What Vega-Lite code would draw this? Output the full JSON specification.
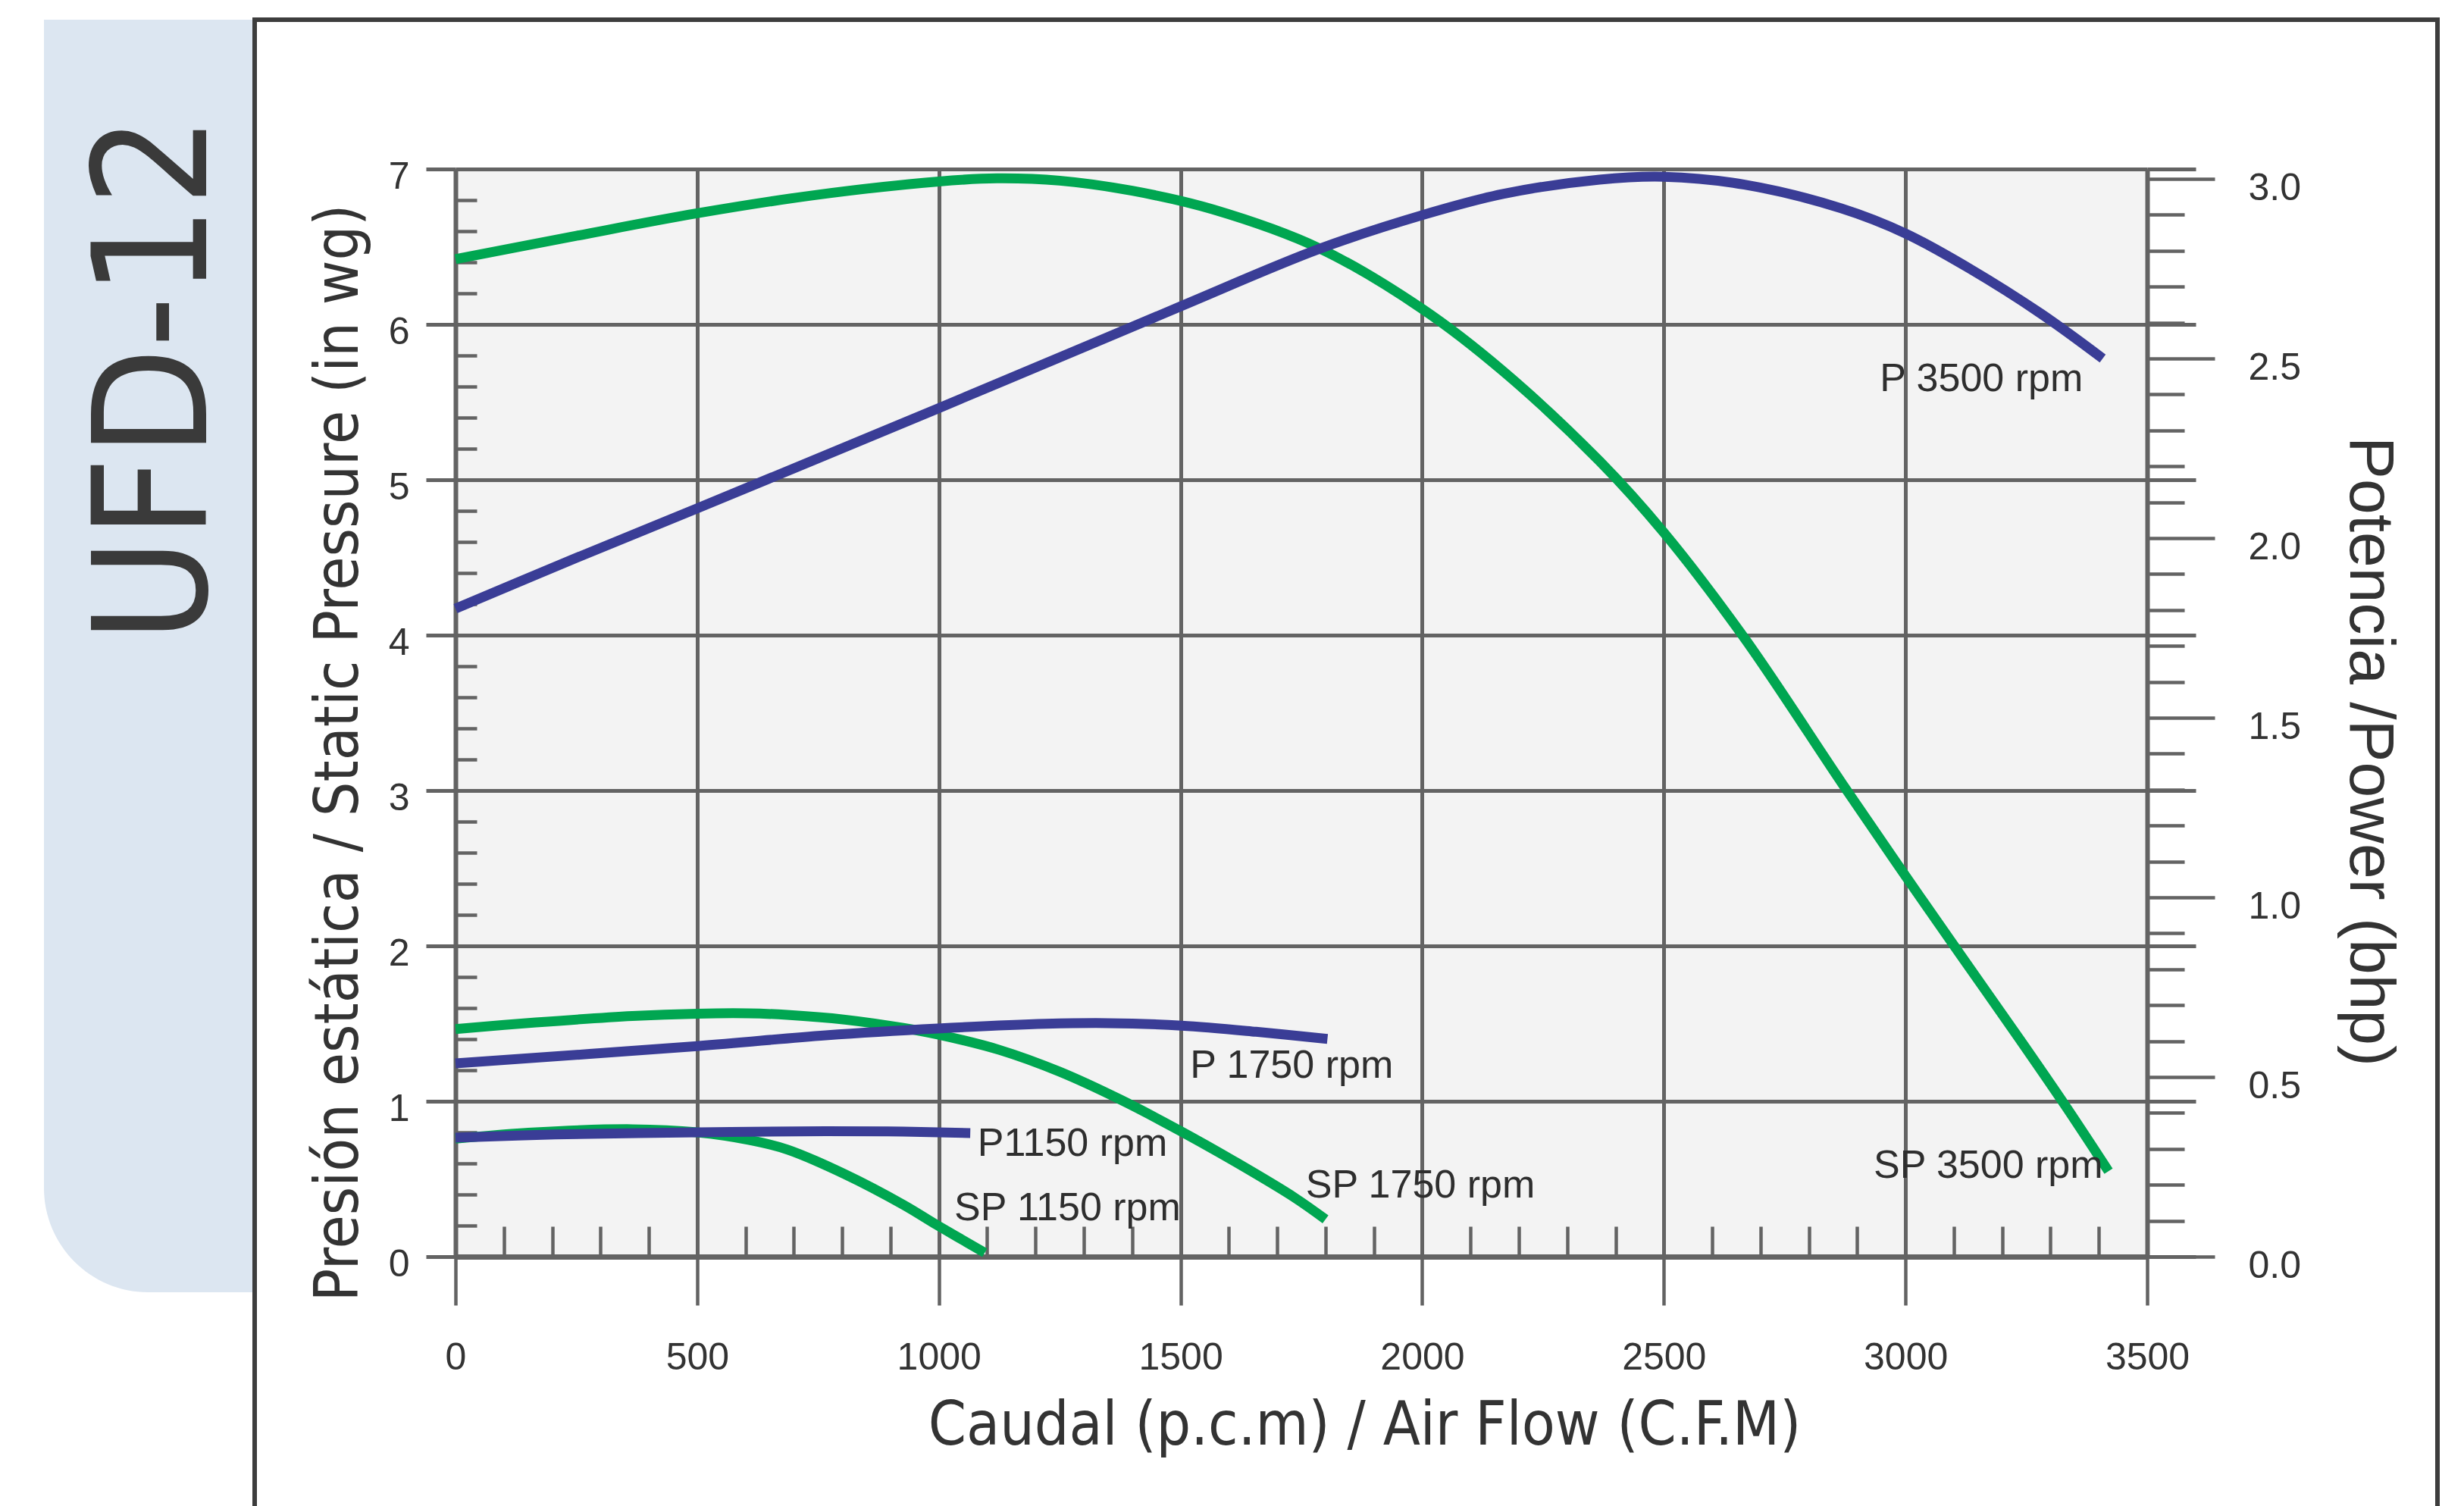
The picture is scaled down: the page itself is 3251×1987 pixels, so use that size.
{
  "$schema": "https://vega.github.io/schema/vega-lite/v6.json",
  "background": "white",
  "padding": {"left": 58, "top": 23, "right": 0, "bottom": 0},
  "spacing": 0,
  "config": {
    "view": {"stroke": "#3d3d3d", "strokeWidth": 6},
    "axis": {"labelFont": "Liberation Sans", "labelColor": "#333333", "titleColor": "#333333", "titleFontWeight": "normal", "tickColor": "#636363", "domainColor": "#636363", "gridColor": "#636363", "gridOpacity": 1, "labelFlush": false, "labelOverlap": false}
  },
  "datasets": {
    "sp": [
      {"curve": "SP 3500 rpm", "cfm": 0, "pressure": 6.42},
      {"curve": "SP 3500 rpm", "cfm": 250, "pressure": 6.57},
      {"curve": "SP 3500 rpm", "cfm": 500, "pressure": 6.715},
      {"curve": "SP 3500 rpm", "cfm": 750, "pressure": 6.835},
      {"curve": "SP 3500 rpm", "cfm": 1000, "pressure": 6.92},
      {"curve": "SP 3500 rpm", "cfm": 1120, "pressure": 6.94},
      {"curve": "SP 3500 rpm", "cfm": 1250, "pressure": 6.925},
      {"curve": "SP 3500 rpm", "cfm": 1400, "pressure": 6.86},
      {"curve": "SP 3500 rpm", "cfm": 1567, "pressure": 6.74},
      {"curve": "SP 3500 rpm", "cfm": 1787, "pressure": 6.49},
      {"curve": "SP 3500 rpm", "cfm": 2000, "pressure": 6.1},
      {"curve": "SP 3500 rpm", "cfm": 2167, "pressure": 5.7},
      {"curve": "SP 3500 rpm", "cfm": 2367, "pressure": 5.12},
      {"curve": "SP 3500 rpm", "cfm": 2500, "pressure": 4.66},
      {"curve": "SP 3500 rpm", "cfm": 2667, "pressure": 3.98},
      {"curve": "SP 3500 rpm", "cfm": 2870, "pressure": 3.04},
      {"curve": "SP 3500 rpm", "cfm": 3000, "pressure": 2.45},
      {"curve": "SP 3500 rpm", "cfm": 3112, "pressure": 1.95},
      {"curve": "SP 3500 rpm", "cfm": 3236, "pressure": 1.4},
      {"curve": "SP 3500 rpm", "cfm": 3331, "pressure": 0.97},
      {"curve": "SP 3500 rpm", "cfm": 3420, "pressure": 0.55},
      {"curve": "SP 1750 rpm", "cfm": 0, "pressure": 1.465},
      {"curve": "SP 1750 rpm", "cfm": 166, "pressure": 1.507},
      {"curve": "SP 1750 rpm", "cfm": 366, "pressure": 1.549},
      {"curve": "SP 1750 rpm", "cfm": 500, "pressure": 1.564},
      {"curve": "SP 1750 rpm", "cfm": 606, "pressure": 1.566},
      {"curve": "SP 1750 rpm", "cfm": 686, "pressure": 1.556},
      {"curve": "SP 1750 rpm", "cfm": 806, "pressure": 1.525},
      {"curve": "SP 1750 rpm", "cfm": 926, "pressure": 1.472},
      {"curve": "SP 1750 rpm", "cfm": 998, "pressure": 1.43},
      {"curve": "SP 1750 rpm", "cfm": 1126, "pressure": 1.33},
      {"curve": "SP 1750 rpm", "cfm": 1250, "pressure": 1.19},
      {"curve": "SP 1750 rpm", "cfm": 1376, "pressure": 1.01},
      {"curve": "SP 1750 rpm", "cfm": 1502, "pressure": 0.805},
      {"curve": "SP 1750 rpm", "cfm": 1616, "pressure": 0.605},
      {"curve": "SP 1750 rpm", "cfm": 1736, "pressure": 0.38},
      {"curve": "SP 1750 rpm", "cfm": 1800, "pressure": 0.24},
      {"curve": "SP 1150 rpm", "cfm": 0, "pressure": 0.76},
      {"curve": "SP 1150 rpm", "cfm": 166, "pressure": 0.8},
      {"curve": "SP 1150 rpm", "cfm": 366, "pressure": 0.82},
      {"curve": "SP 1150 rpm", "cfm": 500, "pressure": 0.8},
      {"curve": "SP 1150 rpm", "cfm": 606, "pressure": 0.752},
      {"curve": "SP 1150 rpm", "cfm": 686, "pressure": 0.69},
      {"curve": "SP 1150 rpm", "cfm": 806, "pressure": 0.53},
      {"curve": "SP 1150 rpm", "cfm": 926, "pressure": 0.335},
      {"curve": "SP 1150 rpm", "cfm": 998, "pressure": 0.2},
      {"curve": "SP 1150 rpm", "cfm": 1095, "pressure": 0.025}
    ],
    "p": [
      {"curve": "P 3500 rpm", "cfm": 0, "power": 1.804},
      {"curve": "P 3500 rpm", "cfm": 250, "power": 1.945},
      {"curve": "P 3500 rpm", "cfm": 500, "power": 2.083},
      {"curve": "P 3500 rpm", "cfm": 750, "power": 2.222},
      {"curve": "P 3500 rpm", "cfm": 1000, "power": 2.362},
      {"curve": "P 3500 rpm", "cfm": 1250, "power": 2.503},
      {"curve": "P 3500 rpm", "cfm": 1500, "power": 2.645},
      {"curve": "P 3500 rpm", "cfm": 1787, "power": 2.805},
      {"curve": "P 3500 rpm", "cfm": 2000, "power": 2.899},
      {"curve": "P 3500 rpm", "cfm": 2167, "power": 2.958},
      {"curve": "P 3500 rpm", "cfm": 2367, "power": 2.998},
      {"curve": "P 3500 rpm", "cfm": 2500, "power": 3.006},
      {"curve": "P 3500 rpm", "cfm": 2667, "power": 2.984},
      {"curve": "P 3500 rpm", "cfm": 2867, "power": 2.918},
      {"curve": "P 3500 rpm", "cfm": 3000, "power": 2.848},
      {"curve": "P 3500 rpm", "cfm": 3133, "power": 2.75},
      {"curve": "P 3500 rpm", "cfm": 3280, "power": 2.625},
      {"curve": "P 3500 rpm", "cfm": 3408, "power": 2.5},
      {"curve": "P 1750 rpm", "cfm": 0, "power": 0.538},
      {"curve": "P 1750 rpm", "cfm": 500, "power": 0.586},
      {"curve": "P 1750 rpm", "cfm": 766, "power": 0.616},
      {"curve": "P 1750 rpm", "cfm": 998, "power": 0.635},
      {"curve": "P 1750 rpm", "cfm": 1221, "power": 0.648},
      {"curve": "P 1750 rpm", "cfm": 1350, "power": 0.65},
      {"curve": "P 1750 rpm", "cfm": 1502, "power": 0.643},
      {"curve": "P 1750 rpm", "cfm": 1656, "power": 0.626},
      {"curve": "P 1750 rpm", "cfm": 1804, "power": 0.606},
      {"curve": "P1150 rpm", "cfm": 0, "power": 0.331},
      {"curve": "P1150 rpm", "cfm": 206, "power": 0.34},
      {"curve": "P1150 rpm", "cfm": 500, "power": 0.346},
      {"curve": "P1150 rpm", "cfm": 766, "power": 0.349},
      {"curve": "P1150 rpm", "cfm": 926, "power": 0.348},
      {"curve": "P1150 rpm", "cfm": 1065, "power": 0.344}
    ],
    "splabels": [
      {"label": "SP 3500 rpm", "cfm": 2934, "pressure": 0.585},
      {"label": "SP 1750 rpm", "cfm": 1759, "pressure": 0.46},
      {"label": "SP 1150 rpm", "cfm": 1032, "pressure": 0.31}
    ],
    "plabels": [
      {"label": "P 3500 rpm", "cfm": 2947, "power": 2.443},
      {"label": "P 1750 rpm", "cfm": 1520, "power": 0.532},
      {"label": "P1150 rpm", "cfm": 1080, "power": 0.314}
    ]
  },
  "hconcat": [
    {
      "width": 275,
      "height": 1679,
      "view": {"stroke": null},
      "data": {"values": [{"model": "UFD-12"}]},
      "encoding": {"x": {"field": "model", "type": "nominal", "scale": {"paddingInner": 0, "paddingOuter": 0}, "axis": null}},
      "layer": [
        {
          "mark": {"type": "rect", "color": "#dce6f1", "cornerRadiusBottomLeft": 210},
          "encoding": {
            "y": {"datum": 0, "type": "quantitative", "scale": {"domain": [0, 1], "nice": false, "zero": false}, "axis": null},
            "y2": {"datum": 1}
          }
        },
        {
          "mark": {"type": "text", "angle": 270, "align": "right", "baseline": "alphabetic", "dx": -127, "dy": 76, "font": "DejaVu Sans Condensed", "fontSize": 208, "color": "#3a3a3a"},
          "encoding": {
            "y": {"datum": 1, "type": "quantitative", "scale": {"domain": [0, 1], "nice": false, "zero": false}, "axis": null},
            "text": {"field": "model"}
          }
        }
      ]
    },
    {
      "width": 2880,
      "height": 2000,
      "resolve": {"scale": {"y": "independent"}, "axis": {"x": "independent", "y": "independent"}},
      "layer": [
        {
          "data": {"name": "sp"},
          "transform": [{"filter": "datum.curve == 'SP 3500 rpm'"}],
          "mark": {"type": "line", "color": "#00a651", "strokeWidth": 13, "interpolate": "catmull-rom"},
          "encoding": {
            "x": {"field": "cfm", "type": "quantitative", "scale": {"domain": [0, 3500], "range": [265, 2497], "nice": false, "zero": false},
              "axis": {"orient": "top", "values": [1750], "grid": true, "gridColor": "#f3f3f3", "gridWidth": 2232, "gridOpacity": 1, "domain": false, "ticks": false, "labels": false, "title": null}},
            "y": {"field": "pressure", "type": "quantitative", "scale": {"domain": [0, 7], "range": [1632, 197], "nice": false, "zero": false},
              "axis": {"orient": "left", "offset": -265, "values": [0, 1, 2, 3, 4, 5, 6, 7], "grid": true, "gridWidth": 5, "domain": true, "domainWidth": 6, "ticks": true, "tickSize": 39, "tickWidth": 5, "labels": true, "labelFontSize": 50, "labelPadding": 22, "labelOffset": 10,
                "title": "Presión estática  / Static Pressure (in wg)", "titleFont": "DejaVu Sans Condensed", "titleFontSize": 80, "titleAngle": 270, "titleX": -130, "titleY": 967, "titleBaseline": "alphabetic", "titleAlign": "center"}}
          }
        },
        {
          "data": {"name": "sp"},
          "transform": [{"filter": "datum.curve != 'SP 3500 rpm'"}],
          "mark": {"type": "line", "color": "#00a651", "strokeWidth": 13, "interpolate": "catmull-rom"},
          "encoding": {
            "detail": {"field": "curve"},
            "x": {"field": "cfm", "type": "quantitative", "scale": {"domain": [0, 3500], "range": [265, 2497], "nice": false, "zero": false},
              "axis": {"orient": "top", "values": [0, 500, 1000, 1500, 2000, 2500, 3000, 3500], "grid": true, "gridWidth": 5, "domain": false, "ticks": false, "labels": false, "title": null}},
            "y": {"field": "pressure", "type": "quantitative", "scale": {"domain": [0, 7], "range": [1632, 197], "nice": false, "zero": false},
              "axis": {"orient": "right", "offset": -2615, "values": [0.2, 0.4, 0.6, 0.8, 1.2, 1.4, 1.6, 1.8, 2.2, 2.4, 2.6, 2.8, 3.2, 3.4, 3.6, 3.8, 4.2, 4.4, 4.6, 4.8, 5.2, 5.4, 5.6, 5.8, 6.2, 6.4, 6.6, 6.8], "grid": false, "domain": false, "ticks": true, "tickSize": 28, "tickWidth": 4.5, "labels": false, "title": null}}
          }
        },
        {
          "data": {"name": "splabels"},
          "mark": {"type": "text", "align": "left", "baseline": "middle", "font": "Liberation Sans", "fontSize": 52, "color": "#2e2e2e"},
          "encoding": {
            "text": {"field": "label"},
            "x": {"field": "cfm", "type": "quantitative", "scale": {"domain": [0, 3500], "range": [265, 2497], "nice": false, "zero": false},
              "axis": {"orient": "top", "offset": -1632, "values": [100, 200, 300, 400, 600, 700, 800, 900, 1100, 1200, 1300, 1400, 1600, 1700, 1800, 1900, 2100, 2200, 2300, 2400, 2600, 2700, 2800, 2900, 3100, 3200, 3300, 3400], "grid": false, "domain": false, "ticks": true, "tickSize": 40, "tickWidth": 4.5, "labels": false, "title": null}},
            "y": {"field": "pressure", "type": "quantitative", "scale": {"domain": [0, 7], "range": [1632, 197], "nice": false, "zero": false},
              "axis": {"orient": "right", "offset": -383, "values": [0, 1, 2, 3, 4, 5, 6, 7], "grid": false, "domain": true, "domainWidth": 6, "ticks": true, "tickSize": 64, "tickWidth": 5, "labels": false, "title": null}}
          }
        },
        {
          "data": {"name": "p"},
          "transform": [{"filter": "datum.curve == 'P 3500 rpm'"}],
          "mark": {"type": "line", "color": "#3a3d96", "strokeWidth": 13, "interpolate": "catmull-rom"},
          "encoding": {
            "x": {"field": "cfm", "type": "quantitative", "scale": {"domain": [0, 3500], "range": [265, 2497], "nice": false, "zero": false},
              "axis": {"orient": "bottom", "offset": -368, "values": [0, 500, 1000, 1500, 2000, 2500, 3000, 3500], "format": "d", "grid": false, "domain": true, "domainWidth": 7, "ticks": true, "tickSize": 64, "tickWidth": 4.5, "labels": true, "labelFontSize": 50, "labelPadding": 44,
                "title": "Caudal (p.c.m) / Air Flow (C.F.M)", "titleFont": "DejaVu Sans Condensed", "titleFontSize": 80, "titleX": 1464, "titleY": 247, "titleBaseline": "alphabetic", "titleAlign": "center"}},
            "y": {"field": "power", "type": "quantitative", "scale": {"domain": [0, 3], "range": [1632, 210], "nice": false, "zero": false},
              "axis": {"orient": "right", "offset": -383, "values": [0, 0.5, 1, 1.5, 2, 2.5, 3], "format": ".1f", "grid": false, "domain": false, "ticks": true, "tickSize": 89, "tickWidth": 4.5, "labels": true, "labelFontSize": 50, "labelPadding": 44, "labelOffset": 12,
                "title": "Potencia /Power (bhp)", "titleFont": "Liberation Sans", "titleFontSize": 84, "titleAngle": 90, "titleX": 267, "titleY": 965, "titleBaseline": "alphabetic", "titleAlign": "center"}}
          }
        },
        {
          "data": {"name": "p"},
          "transform": [{"filter": "datum.curve != 'P 3500 rpm'"}],
          "mark": {"type": "line", "color": "#3a3d96", "strokeWidth": 13, "interpolate": "catmull-rom"},
          "encoding": {
            "detail": {"field": "curve"},
            "x": {"field": "cfm", "type": "quantitative", "scale": {"domain": [0, 3500], "range": [265, 2497], "nice": false, "zero": false}, "axis": null},
            "y": {"field": "power", "type": "quantitative", "scale": {"domain": [0, 3], "range": [1632, 210], "nice": false, "zero": false},
              "axis": {"orient": "right", "offset": -383, "values": [0.1, 0.2, 0.3, 0.4, 0.6, 0.7, 0.8, 0.9, 1.1, 1.2, 1.3, 1.4, 1.6, 1.7, 1.8, 1.9, 2.1, 2.2, 2.3, 2.4, 2.6, 2.7, 2.8, 2.9], "grid": false, "domain": false, "ticks": true, "tickSize": 49, "tickWidth": 4.5, "labels": false, "title": null}}
          }
        },
        {
          "data": {"name": "plabels"},
          "mark": {"type": "text", "align": "left", "baseline": "middle", "font": "Liberation Sans", "fontSize": 52, "color": "#2e2e2e"},
          "encoding": {
            "text": {"field": "label"},
            "x": {"field": "cfm", "type": "quantitative", "scale": {"domain": [0, 3500], "range": [265, 2497], "nice": false, "zero": false}, "axis": null},
            "y": {"field": "power", "type": "quantitative", "scale": {"domain": [0, 3], "range": [1632, 210], "nice": false, "zero": false}, "axis": null}
          }
        }
      ]
    }
  ]
}
